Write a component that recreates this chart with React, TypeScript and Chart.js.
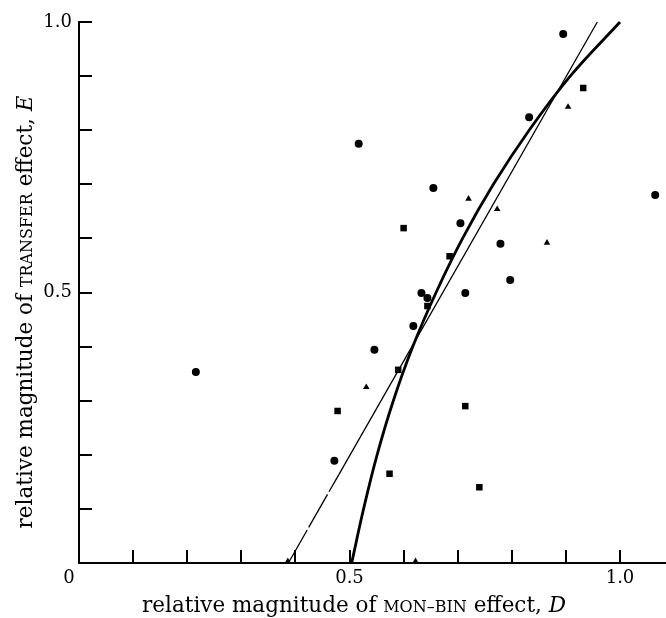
import React, { useEffect, useRef } from 'react';
import { Chart, registerables } from 'chart.js';

Chart.register(...registerables);

// ---- data (D = mon-bin effect, E = transfer effect) ----
const circleD = [0.216, 0.517, 0.895, 1.065, 0.832, 0.655, 0.705, 0.779, 0.797, 0.714, 0.633, 0.644, 0.618, 0.546, 0.472];
const circleE = [0.353, 0.775, 0.978, 0.680, 0.824, 0.693, 0.628, 0.590, 0.523, 0.499, 0.499, 0.490, 0.438, 0.394, 0.189];

const squareD = [0.600, 0.685, 0.644, 0.590, 0.478, 0.714, 0.574, 0.740, 0.932];
const squareE = [0.619, 0.567, 0.475, 0.357, 0.281, 0.290, 0.165, 0.140, 0.878];

const triangleD = [0.720, 0.773, 0.904, 0.865, 0.531, 0.386, 0.622];
const triangleE = [0.673, 0.654, 0.843, 0.592, 0.325, 0.003, 0.003];

// thick fitted curve
const curveD = [0.504, 0.526, 0.551, 0.581, 0.617, 0.660, 0.709, 0.766, 0.832, 0.908, 1.0];
const curveE = [0.0, 0.1, 0.2, 0.3, 0.4, 0.5, 0.6, 0.7, 0.8, 0.9, 1.0];

// thin straight line (lower part broken)
const lineD = [0.387, 0.480, 0.958];
const lineE = [0.0, 0.163, 1.0];

const xTickValues = [0, 0.1, 0.2, 0.3, 0.4, 0.5, 0.6, 0.7, 0.8, 0.9, 1.0];
const yTickValues = [0, 0.1, 0.2, 0.3, 0.4, 0.5, 0.6, 0.7, 0.8, 0.9, 1.0];
const xLabeled = [0.5, 1.0];
const yLabeled = [0.5, 1.0];
const originLabel = '0';

const xTitleParts = [
  { text: 'relative magnitude of ', style: 'normal' },
  { text: 'MON–BIN', style: 'caps' },
  { text: ' effect, ', style: 'normal' },
  { text: 'D', style: 'italic' },
];
const yTitleParts = [
  { text: 'relative magnitude of ', style: 'normal' },
  { text: 'TRANSFER', style: 'caps' },
  { text: ' effect, ', style: 'normal' },
  { text: 'E', style: 'italic' },
];

const SERIF = '"DejaVu Serif", "Liberation Serif", serif';
const TICK_SIZE = 18;
const TITLE_SIZE = 21.5;
const CAPS_SIZE = 16;
const TICK_PAD = 5;

function fontFor(style: string) {
  if (style === 'caps') return `${CAPS_SIZE}px ${SERIF}`;
  if (style === 'italic') return `italic ${TITLE_SIZE}px ${SERIF}`;
  return `${TITLE_SIZE}px ${SERIF}`;
}

function drawRich(ctx: CanvasRenderingContext2D, parts: { text: string; style: string }[], cx: number, baseline: number) {
  let total = 0;
  const widths: number[] = [];
  for (const p of parts) {
    ctx.font = fontFor(p.style);
    const w = ctx.measureText(p.text).width;
    widths.push(w);
    total += w;
  }
  let x = cx - total / 2;
  ctx.textAlign = 'left';
  ctx.textBaseline = 'alphabetic';
  parts.forEach((p, i) => {
    ctx.font = fontFor(p.style);
    ctx.fillText(p.text, x, baseline);
    x += widths[i];
  });
}

const decorPlugin = {
  id: 'decor',
  afterDraw(chart: any) {
    const { ctx, chartArea, scales } = chart;
    const xs = scales.x;
    const ys = scales.y;
    ctx.save();
    ctx.strokeStyle = '#000';
    ctx.lineWidth = 2;
    ctx.beginPath();
    for (const v of xTickValues) {
      if (v === 0) continue;
      const px = Math.round(xs.getPixelForValue(v));
      ctx.moveTo(px, chartArea.bottom);
      ctx.lineTo(px, chartArea.bottom - 13);
    }
    for (const v of yTickValues) {
      if (v === 0) continue;
      const py = Math.round(ys.getPixelForValue(v));
      ctx.moveTo(chartArea.left, py);
      ctx.lineTo(chartArea.left + 13, py);
    }
    ctx.stroke();

    ctx.fillStyle = '#000';
    ctx.font = `${TICK_SIZE}px ${SERIF}`;
    ctx.textAlign = 'center';
    ctx.textBaseline = 'middle';
    ctx.fillText(originLabel, xs.getPixelForValue(0) - 10, chartArea.bottom + TICK_PAD + (TICK_SIZE * 1.2) / 2);

    drawRich(ctx, xTitleParts, 354, 612);

    ctx.translate(32, 312);
    ctx.rotate(-Math.PI / 2);
    drawRich(ctx, yTitleParts, 0, 0);
    ctx.restore();
  },
};

function pts(xs: number[], ys: number[]) {
  return xs.map((x, i) => ({ x, y: ys[i] }));
}

export default function App() {
  const ref = useRef<HTMLCanvasElement | null>(null);

  useEffect(() => {
    document.body.style.margin = '0';
    const canvas = ref.current;
    if (!canvas) return;
    const chart = new Chart(canvas, {
      type: 'scatter',
      data: {
        datasets: [
          {
            label: 'circles',
            data: pts(circleD, circleE),
            pointStyle: 'circle',
            pointRadius: 4,
            backgroundColor: '#000',
            borderWidth: 0,
            clip: false,
          },
          {
            label: 'squares',
            data: pts(squareD, squareE),
            pointStyle: 'rect',
            pointRadius: 4.6,
            backgroundColor: '#000',
            borderWidth: 0,
            clip: false,
          },
          {
            label: 'triangles',
            data: pts(triangleD, triangleE),
            pointStyle: 'triangle',
            pointRadius: 3.8,
            backgroundColor: '#000',
            borderWidth: 0,
            clip: false,
          },
          {
            label: 'curve',
            data: pts(curveD, curveE),
            showLine: true,
            pointRadius: 0,
            borderColor: '#000',
            borderWidth: 2.8,
            tension: 0.4,
            clip: false,
          },
          {
            label: 'line',
            data: pts(lineD, lineE),
            showLine: true,
            pointRadius: 0,
            borderColor: '#000',
            borderWidth: 1.3,
            clip: false,
            segment: {
              borderDash: (c: any) => (c.p0DataIndex === 0 ? [38, 3] : undefined),
            },
          } as any,
        ],
      },
      options: {
        animation: false,
        responsive: false,
        devicePixelRatio: 1,
        events: [],
        layout: { autoPadding: false, padding: { left: 0, right: 0, top: 22, bottom: 0 } },
        plugins: { legend: { display: false }, tooltip: { enabled: false }, title: { display: false } },
        scales: {
          x: {
            type: 'linear',
            min: 0,
            max: 1.085,
            grid: { display: false, drawTicks: false },
            border: { display: true, color: '#000', width: 2 },
            afterFit: (s: any) => { s.height = 55; s.paddingLeft = 0; s.paddingRight = 0; },
            afterBuildTicks: (s: any) => { s.ticks = xTickValues.map((v) => ({ value: v })); },
            ticks: {
              autoSkip: false,
              maxRotation: 0,
              padding: TICK_PAD,
              color: '#000',
              font: { family: SERIF, size: TICK_SIZE },
              callback: (v: any) => (xLabeled.some((l) => Math.abs(l - v) < 1e-9) ? Number(v).toFixed(1) : ''),
            },
          },
          y: {
            type: 'linear',
            min: 0,
            max: 1.0,
            grid: { display: false, drawTicks: false },
            border: { display: true, color: '#000', width: 2 },
            afterFit: (s: any) => { s.width = 79; s.paddingTop = 0; s.paddingBottom = 0; },
            afterBuildTicks: (s: any) => { s.ticks = yTickValues.map((v) => ({ value: v })); },
            ticks: {
              autoSkip: false,
              padding: 7,
              color: '#000',
              font: { family: SERIF, size: TICK_SIZE },
              callback: (v: any) => (yLabeled.some((l) => Math.abs(l - v) < 1e-9) ? Number(v).toFixed(1) : ''),
            },
          },
        },
      },
      plugins: [decorPlugin],
    } as any);
    return () => chart.destroy();
  }, []);

  return (
    <div style={{ width: 666, height: 618 }}>
      <canvas ref={ref} width={666} height={618} style={{ display: 'block' }} />
    </div>
  );
}
